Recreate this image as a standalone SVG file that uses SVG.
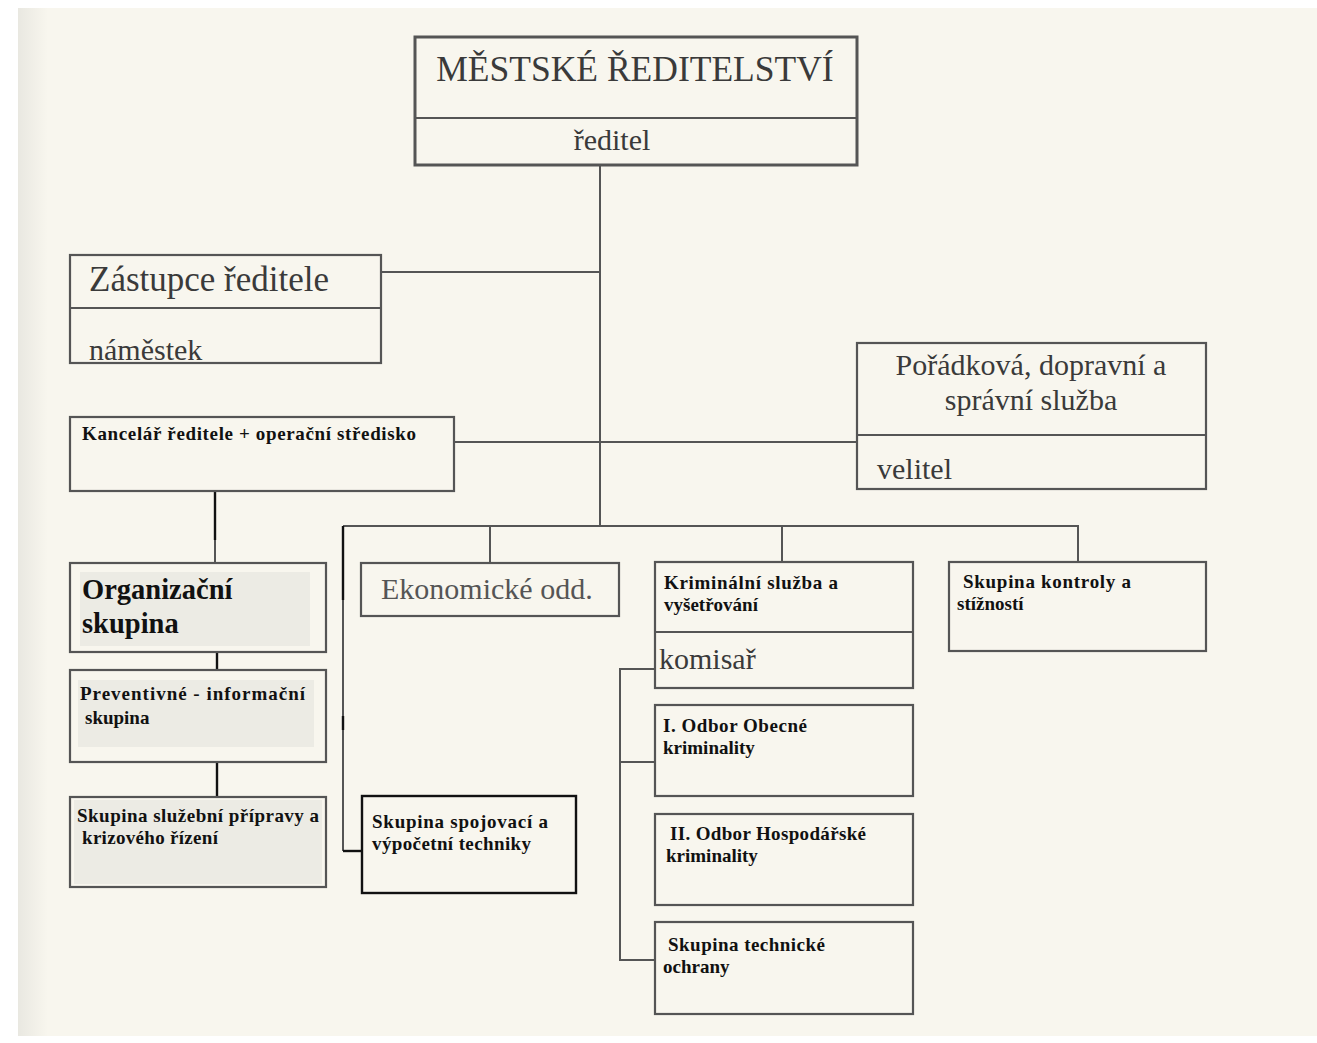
<svg xmlns="http://www.w3.org/2000/svg" width="1317" height="1043" viewBox="0 0 1317 1043">
<defs>
<linearGradient id="edge" x1="0" x2="1" y1="0" y2="0">
<stop offset="0" stop-color="#e9e8e1"/>
<stop offset="1" stop-color="#f8f6ee"/>
</linearGradient>
</defs>
<style>
.box{fill:none;stroke:#555;stroke-width:2.2}
.boxk{fill:none;stroke:#111;stroke-width:2.4}
.inner{fill:#ecebe4;stroke:none}
.ln{stroke:#555;stroke-width:2;fill:none}
.lk{stroke:#111;stroke-width:2.4;fill:none}
.big{font-family:"Liberation Serif","Times New Roman",serif;fill:#3a3a3a;font-size:30px}
.bold{font-family:"Liberation Serif","Times New Roman",serif;font-weight:bold;fill:#111;font-size:19px}
</style>
<rect x="0" y="0" width="1317" height="1043" fill="#ffffff"/>
<rect x="18" y="8" width="1299" height="1028" fill="#f8f6ee"/>
<rect x="18" y="8" width="30" height="1028" fill="url(#edge)"/>

<g id="connectors">
<line class="ln" x1="600" y1="165" x2="600" y2="526"/>
<line class="ln" x1="381" y1="272" x2="600" y2="272"/>
<line class="ln" x1="454" y1="442" x2="857" y2="442"/>
<polyline class="ln" points="343,526 1078,526 1078,563"/>
<line class="ln" x1="490" y1="526" x2="490" y2="563"/>
<line class="ln" x1="782" y1="526" x2="782" y2="562"/>
<line class="ln" x1="343" y1="526" x2="343" y2="851"/>
<line class="lk" x1="343" y1="526" x2="343" y2="600"/>
<line class="lk" x1="343" y1="716" x2="343" y2="730"/>
<line class="lk" x1="343" y1="851" x2="362" y2="851"/>
<line class="lk" x1="215" y1="491" x2="215" y2="540"/>
<line class="ln" x1="215" y1="540" x2="215" y2="563"/>
<line class="lk" x1="217" y1="652" x2="217" y2="670"/>
<line class="lk" x1="217" y1="762" x2="217" y2="797"/>
<polyline class="ln" points="655,669 620,669 620,960 655,960"/>
<line class="ln" x1="620" y1="762" x2="655" y2="762"/>
</g>

<g id="mestske">
<rect class="box" x="415" y="37" width="442" height="128" style="stroke-width:3"/>
<line class="ln" x1="415" y1="118" x2="857" y2="118"/>
<text class="big" x="635" y="81" style="font-size:35.5px" text-anchor="middle">MĚSTSKÉ ŘEDITELSTVÍ</text>
<text class="big" x="612" y="150" text-anchor="middle">ředitel</text>
</g>

<g id="zastupce">
<rect class="box" x="70" y="255" width="311" height="108"/>
<line class="ln" x1="70" y1="308" x2="381" y2="308"/>
<text class="big" x="89" y="291" style="font-size:35px">Zástupce ředitele</text>
<text class="big" x="89" y="360">náměstek</text>
</g>

<g id="kancelar">
<rect class="box" x="70" y="417" width="384" height="74"/>
<text class="bold" x="82" y="440" textLength="334" lengthAdjust="spacing">Kancelář  ředitele  +  operační  středisko</text>
</g>

<g id="poradkova">
<rect class="box" x="857" y="343" width="349" height="146"/>
<line class="ln" x1="857" y1="435" x2="1206" y2="435"/>
<text class="big" x="1031" y="375" text-anchor="middle">Pořádková, dopravní a</text>
<text class="big" x="1031" y="410" text-anchor="middle">správní služba</text>
<text class="big" x="877" y="479">velitel</text>
</g>

<g id="organizacni">
<rect class="inner" x="80" y="572" width="230" height="74"/>
<rect class="box" x="70" y="563" width="256" height="89"/>
<text class="bold" x="82" y="599" style="font-size:28.5px">Organizační</text>
<text class="bold" x="82" y="633" style="font-size:28.5px">skupina</text>
</g>

<g id="preventivne">
<rect class="inner" x="78" y="680" width="236" height="67"/>
<rect class="box" x="70" y="670" width="256" height="92"/>
<text class="bold" x="80" y="700" textLength="225" lengthAdjust="spacing">Preventivné - informační</text>
<text class="bold" x="85" y="724">skupina</text>
</g>

<g id="sluzebni">
<rect class="inner" x="74" y="800" width="248" height="84"/>
<rect class="box" x="70" y="797" width="256" height="90"/>
<text class="bold" x="77" y="822" textLength="242" lengthAdjust="spacing">Skupina  služební  přípravy a</text>
<text class="bold" x="82" y="844" textLength="136" lengthAdjust="spacing">krizového  řízení</text>
</g>

<g id="ekonomicke">
<rect class="box" x="361" y="563" width="258" height="53"/>
<text class="big" x="381" y="599" style="fill:#555">Ekonomické odd.</text>
</g>

<g id="spojovaci">
<rect class="boxk" x="362" y="796" width="214" height="97"/>
<text class="bold" x="372" y="828" textLength="176" lengthAdjust="spacing">Skupina  spojovací  a</text>
<text class="bold" x="372" y="850" textLength="159" lengthAdjust="spacing">výpočetní  techniky</text>
</g>

<g id="kriminalni">
<rect class="box" x="655" y="562" width="258" height="126"/>
<line class="ln" x1="655" y1="632" x2="913" y2="632"/>
<text class="bold" x="664" y="589" textLength="174" lengthAdjust="spacing">Kriminální  služba  a</text>
<text class="bold" x="664" y="611">vyšetřování</text>
<text class="big" x="659" y="669">komisař</text>
</g>

<g id="kontroly">
<rect class="box" x="949" y="562" width="257" height="89"/>
<text class="bold" x="963" y="588" textLength="168" lengthAdjust="spacing">Skupina  kontroly  a</text>
<text class="bold" x="957" y="610">stížností</text>
</g>

<g id="odbor1">
<rect class="box" x="655" y="705" width="258" height="91"/>
<text class="bold" x="663" y="732" textLength="144" lengthAdjust="spacing">I. Odbor  Obecné</text>
<text class="bold" x="663" y="754">kriminality</text>
</g>

<g id="odbor2">
<rect class="box" x="655" y="814" width="258" height="91"/>
<text class="bold" x="670" y="840" textLength="196" lengthAdjust="spacing">II. Odbor  Hospodářské</text>
<text class="bold" x="666" y="862">kriminality</text>
</g>

<g id="technicke">
<rect class="box" x="655" y="922" width="258" height="92"/>
<text class="bold" x="668" y="951" textLength="157" lengthAdjust="spacing">Skupina  technické</text>
<text class="bold" x="663" y="973">ochrany</text>
</g>
</svg>
